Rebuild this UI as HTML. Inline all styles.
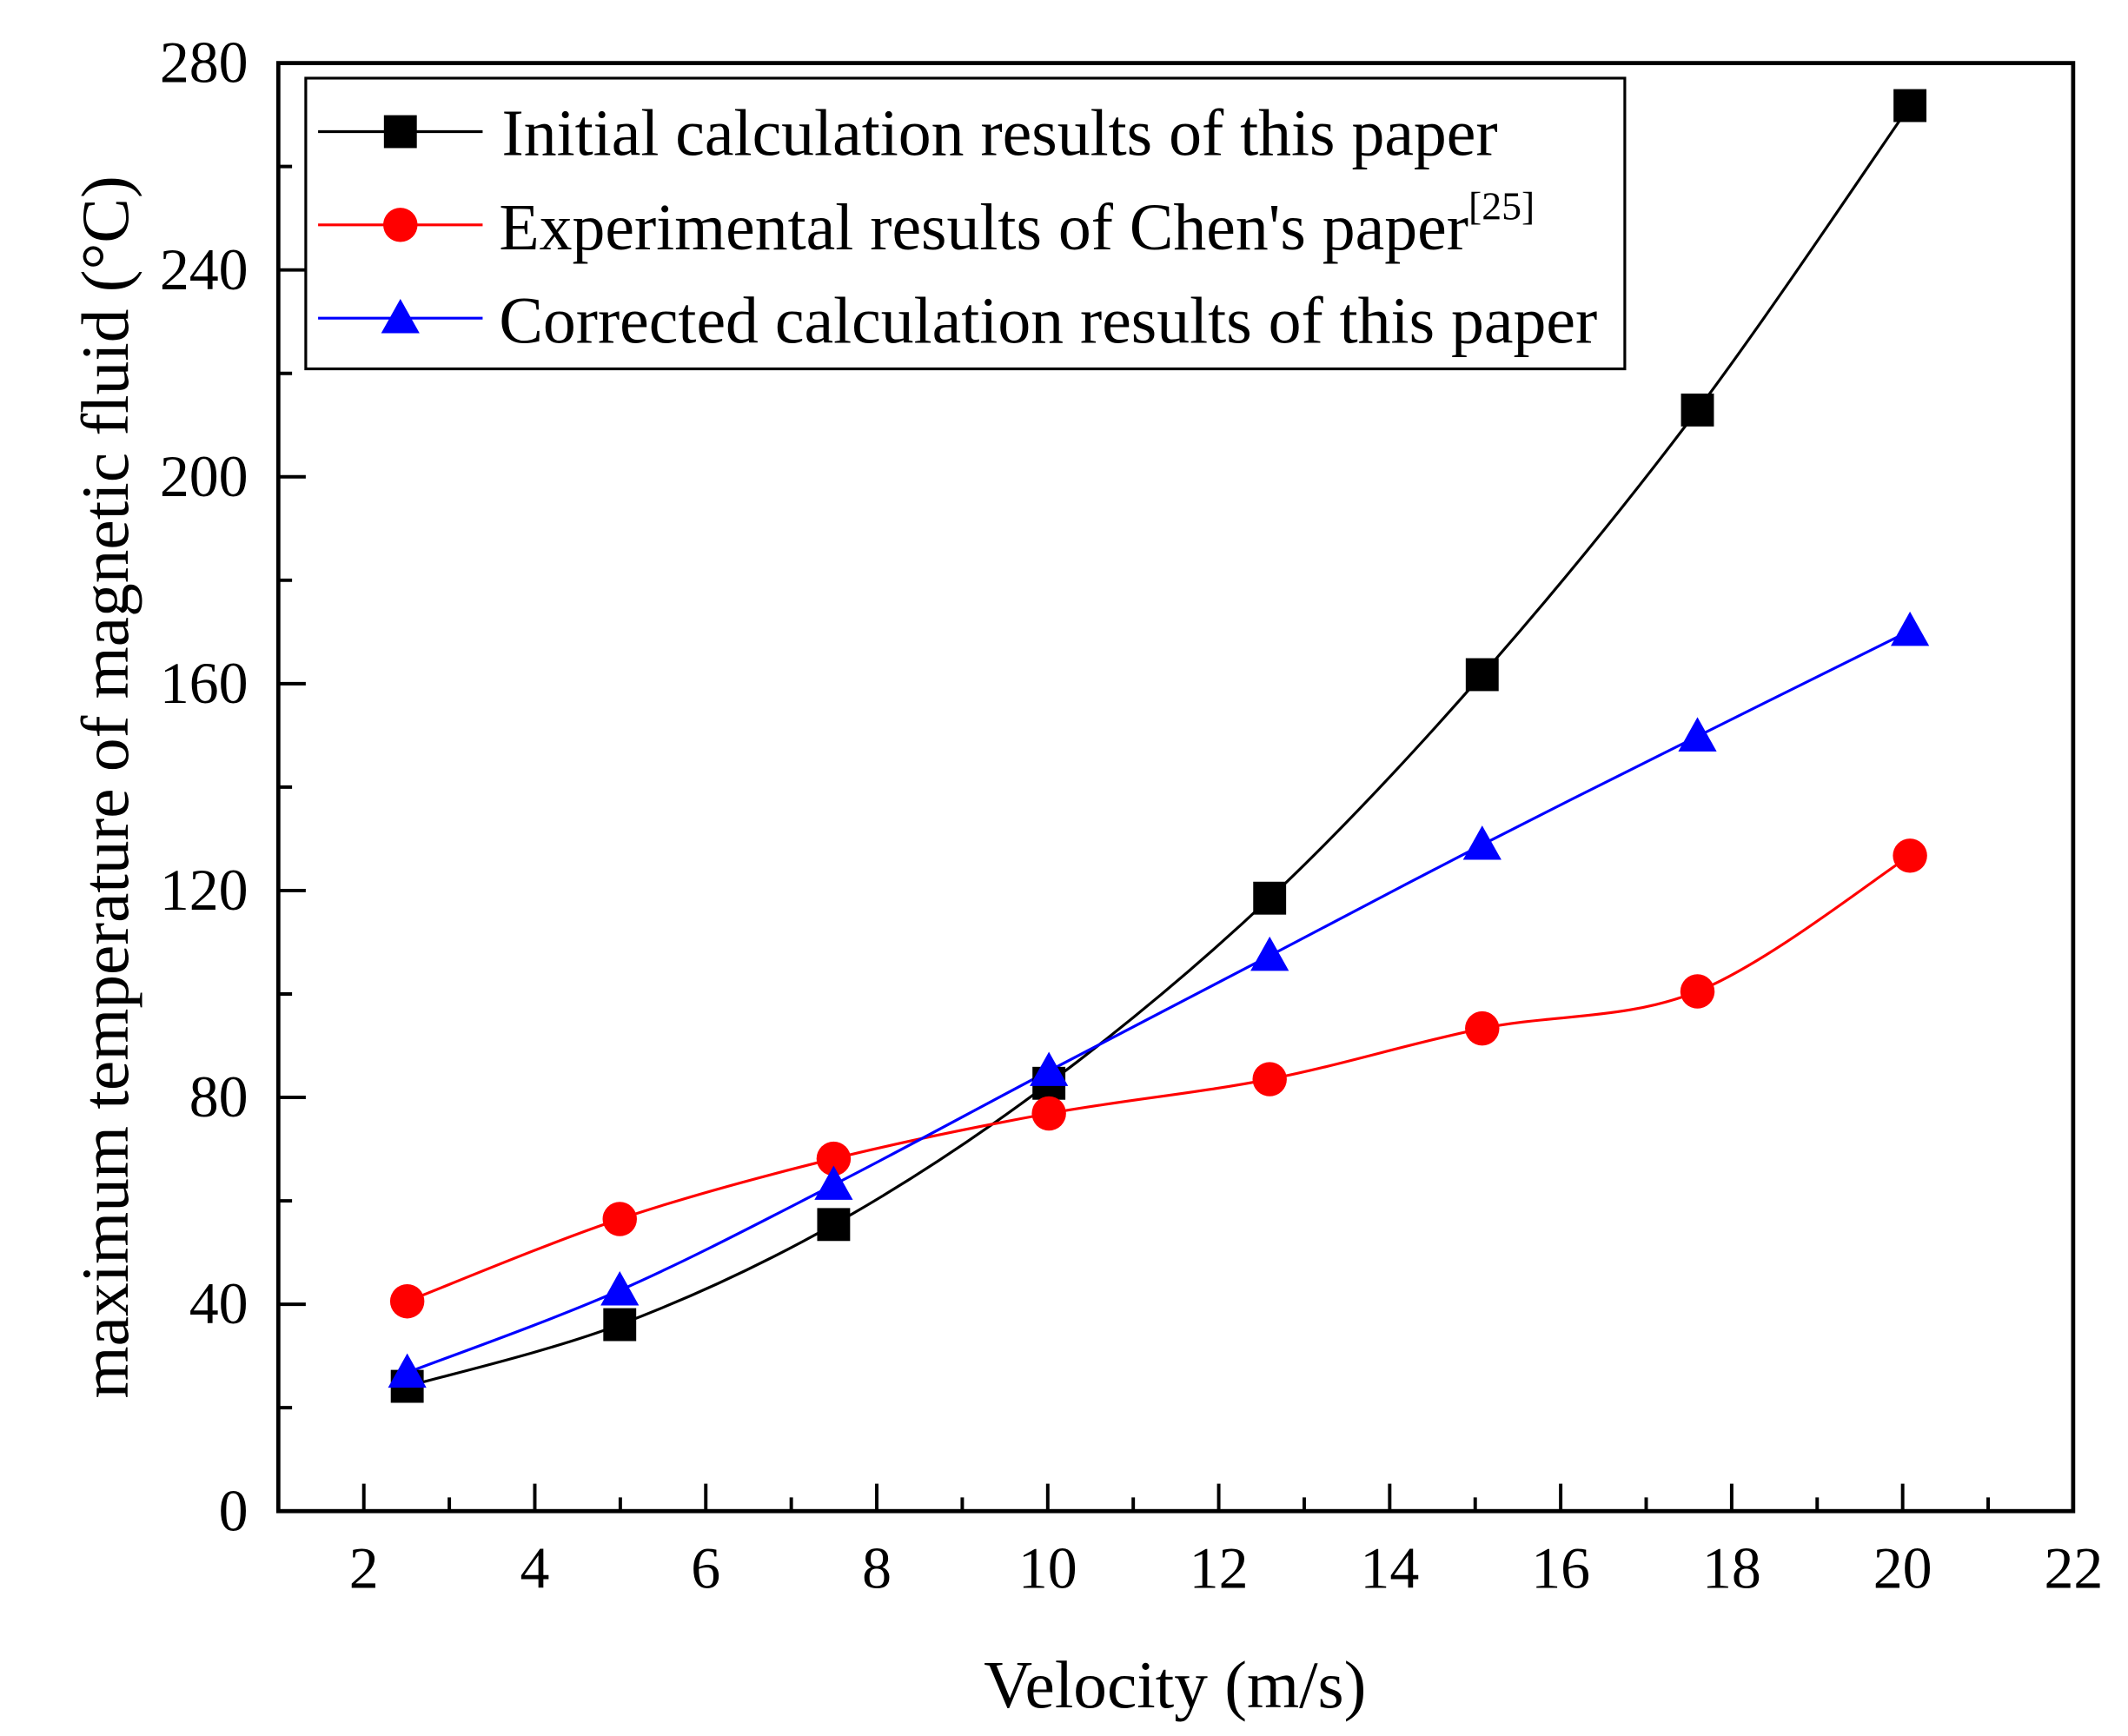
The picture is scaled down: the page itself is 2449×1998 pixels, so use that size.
<!DOCTYPE html>
<html><head><meta charset="utf-8"><style>
html,body{margin:0;padding:0;background:#fff}
svg{display:block}
text{font-family:"Liberation Serif",serif;fill:#000}
</style></head><body>
<svg id="s" width="2449" height="1998" viewBox="0 0 1552 1266" preserveAspectRatio="none" xmlns="http://www.w3.org/2000/svg">
<rect x="0" y="0" width="1552" height="1266" fill="#fff"/>
<g id="ticks" stroke="#000" stroke-width="2.5"></g>
<g id="curves" fill="none" stroke-width="2"></g>
<g id="marks"></g>
<rect x="203" y="46" width="1309" height="1056" fill="none" stroke="#000" stroke-width="3"/>
<g id="labels" font-size="43"></g>
<text x="857" y="1245" font-size="49" text-anchor="middle">Velocity (m/s)</text>
<text transform="translate(93,574) rotate(-90)" font-size="49" text-anchor="middle">maximum temperature of magnetic fluid (°C)</text>
<rect x="223" y="57" width="962" height="212" fill="#fff" stroke="#000" stroke-width="2"/>
<line x1="232" y1="96" x2="352" y2="96" stroke="#000" stroke-width="2"/>
<rect x="280" y="84" width="24" height="24" fill="#000"/>
<text x="366" y="113" font-size="48">Initial calculation results of this paper</text>
<line x1="232" y1="164" x2="352" y2="164" stroke="#f00" stroke-width="2"/>
<circle cx="292" cy="164" r="12.5" fill="#f00"/>
<text x="364" y="182" font-size="48">Experimental results of Chen's paper<tspan font-size="29" dy="-22">[25]</tspan></text>
<line x1="232" y1="232" x2="352" y2="232" stroke="#00f" stroke-width="2"/>
<polygon points="292,218 306,243 278,243" fill="#00f"/>
<text x="364" y="250" font-size="48">Corrected calculation results of this paper</text>
</svg>
<script>
const NS="http://www.w3.org/2000/svg";
function el(p,t,a){const e=document.createElementNS(NS,t);for(const k in a)e.setAttribute(k,a[k]);document.getElementById(p).appendChild(e);return e;}
const X=v=>203+(v-1)*62.35, Y=v=>1102-v*(1056/280);
for(let v=2;v<=21;v++){const x=X(v),maj=v%2==0;el('ticks','line',{x1:x,y1:1102,x2:x,y2:1102-(maj?20:10)});}
for(let v=0;v<=280;v+=20){const y=Y(v),maj=v%40==0;el('ticks','line',{x1:203,y1:y,x2:203+(maj?20:10),y2:y});}
for(let v=2;v<=22;v+=2){const t=el('labels','text',{x:X(v),y:1158,'text-anchor':'middle'});t.textContent=v;}
for(let v=0;v<=280;v+=40){const t=el('labels','text',{x:181,y:Y(v)+14,'text-anchor':'end'});t.textContent=v;}
const xs=[297,452,608,765,926,1081,1238,1393];
const S=[
 ['#000',[1011,966,893,790,655,492,299,77],'sq'],
 ['#f00',[949,889,845,812,787,750,723,624],'ci'],
 ['#00f',[1001,941,864,781,697,616,537,460],'tr']];
S.forEach(([c,ys,m])=>{
 const P=xs.map((x,i)=>[x,ys[i]]);
 let d=`M${P[0][0]},${P[0][1]}`;
 for(let i=0;i<P.length-1;i++){
  const p0=P[Math.max(0,i-1)],p1=P[i],p2=P[i+1],p3=P[Math.min(P.length-1,i+2)];
  const c1=[p1[0]+(p2[0]-p0[0])/6,p1[1]+(p2[1]-p0[1])/6],c2=[p2[0]-(p3[0]-p1[0])/6,p2[1]-(p3[1]-p1[1])/6];
  d+=` C${c1[0]},${c1[1]} ${c2[0]},${c2[1]} ${p2[0]},${p2[1]}`;
 }
 el('curves','path',{d:d,stroke:c});
 P.forEach(([x,y])=>{
  if(m=='sq')el('marks','rect',{x:x-12,y:y-12,width:24,height:24,fill:c});
  else if(m=='ci')el('marks','circle',{cx:x,cy:y,r:12.5,fill:c});
  else el('marks','polygon',{points:`${x},${y-14} ${x+14},${y+11} ${x-14},${y+11}`,fill:c});
 });
});
</script>
</body></html>
